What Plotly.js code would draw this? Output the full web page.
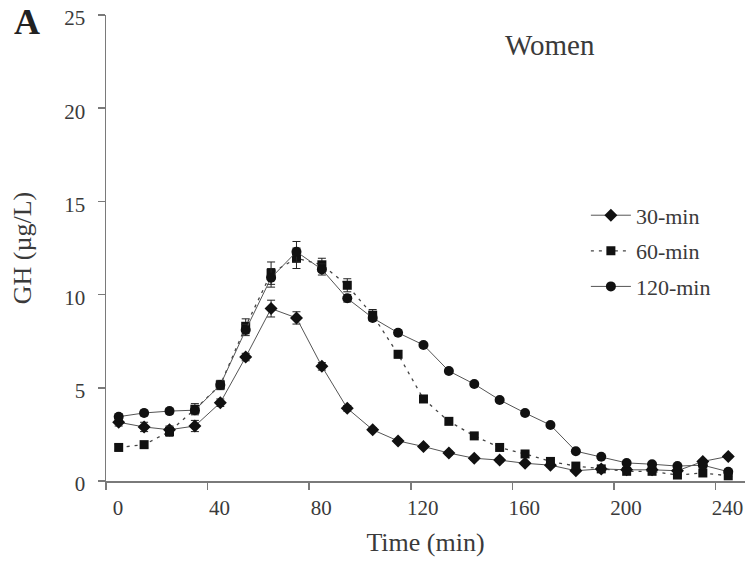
<!DOCTYPE html>
<html>
<head>
<meta charset="utf-8">
<script src="https://cdn.plot.ly/plotly-3.0.1.min.js"></script>
<style>
  html, body { margin: 0; padding: 0; background: #ffffff; }
  #chart { width: 754px; height: 579px; }
</style>
</head>
<body>
<div id="chart"></div>
<script>
// Sampling times (min)
const timeMin = [5, 15, 25, 35, 45, 55, 65, 75, 85, 95, 105, 115, 125,
                 135, 145, 155, 165, 175, 185, 195, 205, 215, 225, 235, 245];

// GH concentration (µg/L), women, by exercise duration
const gh30 = [3.15, 2.9, 2.75, 2.95, 4.2, 6.65, 9.25, 8.75, 6.15, 3.9, 2.75, 2.15, 1.85,
              1.5, 1.22, 1.12, 0.95, 0.85, 0.55, 0.65, 0.6, 0.6, 0.55, 1.05, 1.32];
const gh60 = [1.8, 1.95, 2.65, 3.85, 5.15, 8.3, 11.15, 11.95, 11.6, 10.5, 8.9, 6.8, 4.4,
              3.2, 2.42, 1.8, 1.45, 1.05, 0.8, 0.65, 0.52, 0.52, 0.32, 0.43, 0.28];
const gh120 = [3.45, 3.65, 3.75, 3.8, 5.15, 8.1, 10.9, 12.3, 11.35, 9.8, 8.75, 7.95, 7.3,
               5.9, 5.2, 4.35, 3.65, 3.0, 1.6, 1.3, 0.97, 0.9, 0.8, 0.85, 0.5];

// Standard errors
const se30 = [0.2, 0.25, 0.2, 0.3, 0.2, 0.2, 0.45, 0.33, 0.2, 0.15, 0.1, 0.1, 0.1,
              0.1, 0.1, 0.1, 0.1, 0.1, 0.05, 0.05, 0.05, 0.05, 0.05, 0.1, 0.1];
const se60 = [0.15, 0.15, 0.25, 0.3, 0.25, 0.4, 0.6, 0.55, 0.35, 0.35, 0.3, 0.2, 0.15,
              0.15, 0.1, 0.1, 0.1, 0.1, 0.05, 0.05, 0.05, 0.05, 0.05, 0.05, 0.05];
const se120 = [0.15, 0.15, 0.15, 0.2, 0.2, 0.3, 0.5, 0.55, 0.3, 0.2, 0.15, 0.15, 0.1,
               0.1, 0.1, 0.1, 0.1, 0.1, 0.05, 0.05, 0.05, 0.05, 0.05, 0.05, 0.05];

const seriesNames = ['30-min', '60-min', '120-min'];
const xTicks = [0, 40, 80, 120, 160, 200, 240];
const yTicks = [0, 5, 10, 15, 20, 25];

const serif = 'Liberation Serif, Times New Roman, serif';
const ink = '#3a3a3a';
const axisGrey = '#7a7a7a';

function errBars(se) {
  return { type: 'data', array: se, visible: true, color: '#222', thickness: 1, width: 4 };
}

const traces = [
  {
    x: timeMin, y: gh30, name: seriesNames[0], legendgroup: 'a',
    mode: 'lines+markers', type: 'scatter',
    line: { color: '#555', width: 1 },
    marker: { symbol: 'diamond', size: 10, color: '#111' },
    error_y: errBars(se30)
  },
  {
    x: timeMin, y: gh60, name: seriesNames[1], legendgroup: 'b',
    mode: 'lines+markers', type: 'scatter',
    line: { color: '#444', width: 1.3, dash: '3px,5px' },
    marker: { symbol: 'square', size: 9, color: '#111' },
    error_y: errBars(se60)
  },
  {
    x: timeMin, y: gh120, name: seriesNames[2], legendgroup: 'c',
    mode: 'lines+markers', type: 'scatter',
    line: { color: '#555', width: 1 },
    marker: { symbol: 'circle', size: 10, color: '#111' },
    error_y: errBars(se120)
  }
];

const layout = {
  width: 754, height: 579,
  margin: { l: 106, r: 9, t: 15, b: 98 },
  paper_bgcolor: '#ffffff', plot_bgcolor: '#ffffff',
  font: { family: serif, color: ink, size: 21 },
  showlegend: true,
  legend: {
    x: 0.751, y: 0.615, xanchor: 'left', yanchor: 'top',
    bgcolor: 'rgba(0,0,0,0)', borderwidth: 0,
    font: { family: serif, size: 22, color: ink },
    tracegroupgap: 4, itemwidth: 40
  },
  xaxis: {
    range: [0, 251.6],
    tickvals: xTicks, ticktext: xTicks.map(String),
    ticks: 'outside', ticklen: 7, tickwidth: 1.5, tickcolor: axisGrey,
    showline: true, linecolor: axisGrey, linewidth: 1.5,
    showgrid: false, zeroline: false,
    ticklabelshift: 12,
    tickfont: { family: serif, size: 21, color: ink },
    title: { text: 'Time (min)', font: { family: serif, size: 26, color: ink }, standoff: 14 }
  },
  yaxis: {
    range: [0, 25],
    tickvals: yTicks, ticktext: yTicks.map(String),
    ticks: 'outside', ticklen: 7, tickwidth: 1.5, tickcolor: axisGrey,
    showline: true, linecolor: axisGrey, linewidth: 1.5,
    showgrid: false, zeroline: false,
    ticklabelstandoff: 8, ticklabelshift: 3,
    tickfont: { family: serif, size: 21, color: ink },
    title: { text: 'GH (µg/L)', font: { family: serif, size: 26, color: ink }, standoff: 25 }
  },
  annotations: [
    {
      text: '<b>A</b>', xref: 'paper', yref: 'paper',
      x: -0.124, y: 0.985, xanchor: 'center', yanchor: 'middle',
      showarrow: false, font: { family: serif, size: 36, color: '#222' }
    },
    {
      text: 'Women', xref: 'paper', yref: 'paper',
      x: 0.695, y: 0.936, xanchor: 'center', yanchor: 'middle',
      showarrow: false, font: { family: serif, size: 29, color: ink }
    }
  ]
};

Plotly.newPlot('chart', traces, layout, { displayModeBar: false, staticPlot: true });
</script>
</body>
</html>
